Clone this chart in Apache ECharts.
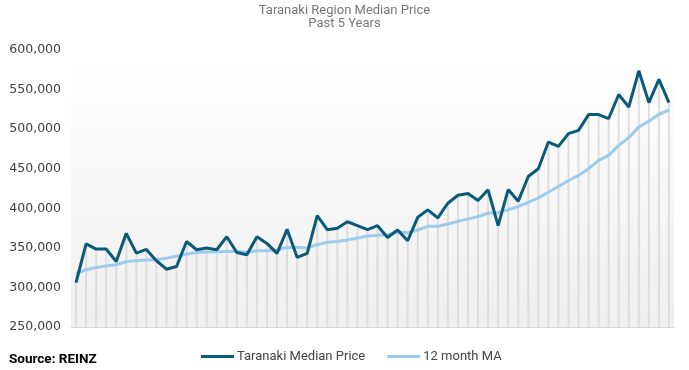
<!DOCTYPE html>
<html>
<head>
<meta charset="utf-8">
<script src="https://cdn.jsdelivr.net/npm/echarts@6/dist/echarts.min.js"></script>
<style>html,body{margin:0;padding:0;background:#fff}#c{width:689px;height:370px}</style>
</head>
<body>
<div id="c"></div>
<script>
const months = Array.from({length: 60}, (_, i) => 'M' + (i + 1));
const medianPrice = [306000,355000,348500,348500,332800,368300,343400,348000,333700,323000,
  326500,358000,347600,349800,347600,364000,344200,341300,364000,355600,
  343000,373400,338000,343000,390700,373000,374700,383000,378000,373000,
  378000,363000,372600,359000,388600,398000,387800,406400,416500,418600,
  409800,423300,378000,423700,409000,440200,450000,483700,478200,494300,
  498500,518400,518400,513400,543800,528000,573700,533600,562800,533600];
const movingAvg = [317600,322300,325200,327000,328600,332800,333700,334600,335400,337000,
  339500,342200,344200,344700,345000,345500,345500,344500,346400,346400,
  347300,350600,350800,349800,354000,357000,358000,360000,362500,365000,
  366000,366600,370000,369000,372600,377200,377200,380200,383500,386600,
  389500,393700,394600,398000,402200,407600,413200,420300,427500,435100,
  441500,450000,460500,466800,479500,489300,502700,510000,518800,523900];
const yTicks = {min: 250000, max: 600000, interval: 50000};
const seriesNames = ['Taranaki Median Price', '12 month MA'];

const chart = echarts.init(document.getElementById('c'));
chart.setOption({
  animation: false,
  title: {
    text: 'Taranaki Region Median Price\nPast 5 Years',
    left: 'center', top: 4, padding: 0,
    textStyle: {fontFamily: 'Roboto', fontSize: 13, fontWeight: 'normal', color: '#777', lineHeight: 13}
  },
  graphic: [{
    type: 'text', left: 9, top: 353,
    style: {text: 'Source: REINZ', font: 'bold 13.5px Roboto', fill: '#000'}
  }],
  legend: {
    data: seriesNames,
    left: 196, top: 345,
    itemWidth: 33, itemHeight: 3, itemGap: 22,
    icon: 'rect',
    textStyle: {fontFamily: 'Roboto', fontSize: 13, color: '#444', padding: [0,0,0,-2]}
  },
  grid: {
    left: 71, right: 15, top: 50, bottom: 43,
    show: true, borderWidth: 0,
    backgroundColor: new echarts.graphic.LinearGradient(0, 0, 0, 1, [
      {offset: 0, color: '#ffffff'}, {offset: 1, color: '#efefef'}])
  },
  xAxis: {
    type: 'category', data: months, boundaryGap: true,
    axisLine: {show: true, lineStyle: {color: '#d9d9d9', width: 1}},
    axisTick: {show: false}, axisLabel: {show: false}, splitLine: {show: false}
  },
  yAxis: {
    type: 'value', min: yTicks.min, max: yTicks.max, interval: yTicks.interval,
    axisLine: {show: false}, axisTick: {show: false}, splitLine: {show: false},
    axisLabel: {
      margin: 10, fontFamily: 'DejaVu Sans', fontSize: 12.5, color: '#404040',
      padding: [3, 0, 0, 0],
      formatter: v => v.toLocaleString('en-US')
    }
  },
  series: [
    {
      name: 'drop', type: 'bar', data: medianPrice, barWidth: 2, silent: true,
      itemStyle: {color: '#dedede'}, z: 1, legendHoverLink: false
    },
    {
      name: seriesNames[0], type: 'line', data: medianPrice, symbol: 'none',
      lineStyle: {color: '#0b5a78', width: 3}, itemStyle: {color: '#0b5a78'}, z: 3
    },
    {
      name: seriesNames[1], type: 'line', data: movingAvg, symbol: 'none',
      lineStyle: {color: '#9dcbeb', width: 3}, itemStyle: {color: '#9dcbeb'}, z: 2
    }
  ]
});
</script>
</body>
</html>
